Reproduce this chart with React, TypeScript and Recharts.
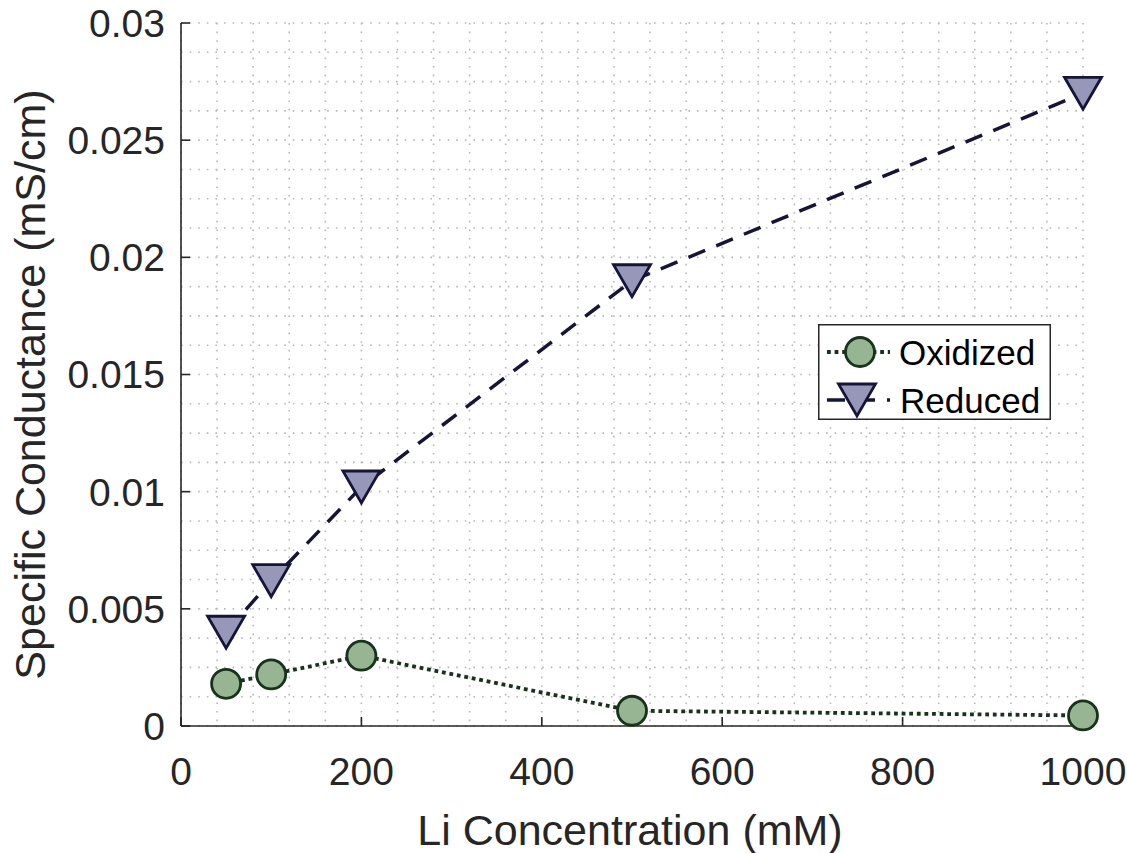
import React from 'react';
import { LineChart, Line, XAxis, YAxis, CartesianGrid, Legend } from 'recharts';

const concentrations = [50, 100, 200, 500, 1000];
const oxidized = [0.0018, 0.0022, 0.003, 0.00065, 0.00045];
const reduced = [0.004, 0.0062, 0.0102, 0.019, 0.027];

const xTicks = [0, 200, 400, 600, 800, 1000];
const yTicks = [0, 0.005, 0.01, 0.015, 0.02, 0.025, 0.03];
const yTickLabels = ['0', '0.005', '0.01', '0.015', '0.02', '0.025', '0.03'];
const xMinorStep = 40;
const yMinorStep = 0.00125;
const xGrid = Array.from({ length: 1000 / xMinorStep + 1 }, (_, i) => i * xMinorStep);
const yGrid = Array.from({ length: 25 }, (_, i) => +(i * yMinorStep).toFixed(5));

const seriesNames = ['Oxidized', 'Reduced'];

const data = concentrations.map((x, i) => ({ x, oxidized: oxidized[i], reduced: reduced[i] }));

const FONT = '"Liberation Sans", Arial, Helvetica, sans-serif';
const AX = '#262626';
const OX_FILL = '#97b593';
const OX_STROKE = '#17331a';
const RED_FILL = '#9797ba';
const RED_STROKE = '#15153a';

const TRI_W = 37;
const TRI_H = 32;

const OX_DASH = '3.8 3.8';
const RED_DASH = '18 12';

function trianglePath(cx: number, cy: number) {
  return `M${cx - TRI_W / 2},${cy - TRI_H / 2} L${cx + TRI_W / 2},${cy - TRI_H / 2} L${cx},${cy + TRI_H / 2} Z`;
}

const OxDot = (p: any) => {
  if (p.cx == null || p.cy == null) return <g key={`ox-${p.index}`} />;
  return <circle key={`ox-${p.index}`} cx={p.cx} cy={p.cy} r={14.5} fill={OX_FILL} stroke={OX_STROKE} strokeWidth={2.8} />;
};

const RedDot = (p: any) => {
  if (p.cx == null || p.cy == null) return <g key={`rd-${p.index}`} />;
  return <path key={`rd-${p.index}`} d={trianglePath(p.cx, p.cy)} fill={RED_FILL} stroke={RED_STROKE} strokeWidth={2.8} strokeLinejoin="miter" />;
};

const EmptyTick = () => <g />;

const LegendBox = () => (
  <svg width={233} height={96} style={{ display: 'block' }}>
    <rect x={0.75} y={0.75} width={231.5} height={94.5} fill="#fff" stroke={AX} strokeWidth={1.5} />
    <line x1={9} y1={28} x2={72} y2={28} stroke={OX_STROKE} strokeWidth={3.8} strokeDasharray={OX_DASH} />
    <circle cx={42} cy={28} r={14.5} fill={OX_FILL} stroke={OX_STROKE} strokeWidth={2.8} />
    <text x={81} y={28} dominantBaseline="central" fontSize={35} fontFamily={FONT} fill="#000">{seriesNames[0]}</text>
    <line x1={9} y1={76} x2={72} y2={76} stroke={RED_STROKE} strokeWidth={3.5} strokeDasharray={RED_DASH} />
    <path d={trianglePath(39, 76)} fill={RED_FILL} stroke={RED_STROKE} strokeWidth={2.8} />
    <text x={82} y={76} dominantBaseline="central" fontSize={35} fontFamily={FONT} fill="#000">{seriesNames[1]}</text>
  </svg>
);

const XLabel = (props: any) => {
  const vb = props.viewBox || {};
  return (
    <text x={vb.x + vb.width / 2 - 2} y={vb.y + 119} textAnchor="middle" fontSize={43} fontFamily={FONT} fill={AX}>
      Li Concentration (mM)
    </text>
  );
};

const YLabel = (props: any) => {
  const vb = props.viewBox || {};
  const x = 45;
  const y = vb.y + vb.height / 2 + 10;
  return (
    <text x={x} y={y} transform={`rotate(-90, ${x}, ${y})`} textAnchor="middle" fontSize={43} fontFamily={FONT} fill={AX}>
      Specific Conductance (mS/cm)
    </text>
  );
};

const tickStyle = { fontSize: 39, fill: AX, fontFamily: FONT };
const lineStyle = { stroke: AX, strokeWidth: 1.6 };

export default function App() {
  return (
    <div style={{ position: 'absolute', left: 0, top: 0, width: 1127, height: 853, background: '#fff' }}>
      <LineChart width={1127} height={853} data={data} margin={{ top: 23, right: 44, bottom: 0, left: 0 }}>
        <CartesianGrid
          stroke="#b8b8b8"
          strokeWidth={1.6}
          strokeDasharray="1.6 7"
          verticalValues={xGrid}
          horizontalValues={yGrid}
        />
        <XAxis
          dataKey="x"
          type="number"
          domain={[0, 1000]}
          ticks={xTicks}
          interval={0}
          height={127}
          tickSize={-9}
          tickMargin={40}
          tick={tickStyle}
          axisLine={lineStyle}
          tickLine={lineStyle}
          label={{ content: XLabel }}
        />
        <XAxis
          xAxisId="top"
          orientation="top"
          type="number"
          domain={[0, 1000]}
          ticks={xTicks}
          interval={0}
          height={0}
          tickSize={-9}
          tickMargin={0}
          tick={EmptyTick}
          axisLine={lineStyle}
          tickLine={lineStyle}
        />
        <YAxis
          type="number"
          domain={[0, 0.03]}
          ticks={yTicks}
          interval={0}
          width={181}
          tickSize={-9}
          tickMargin={25}
          tick={tickStyle}
          tickFormatter={(v: number) => yTickLabels[yTicks.indexOf(v)] ?? String(v)}
          axisLine={lineStyle}
          tickLine={lineStyle}
          label={{ content: YLabel }}
        />
        <YAxis
          yAxisId="right"
          orientation="right"
          type="number"
          domain={[0, 0.03]}
          ticks={yTicks}
          interval={0}
          width={0}
          tickSize={-9}
          tickMargin={0}
          tick={EmptyTick}
          axisLine={lineStyle}
          tickLine={lineStyle}
        />
        <Legend
          verticalAlign="middle"
          align="center"
          layout="horizontal"
          wrapperStyle={{ left: 818, top: 324, width: 233, height: 96 }}
          content={() => <LegendBox />}
        />
        <Line
          dataKey="oxidized"
          name={seriesNames[0]}
          type="linear"
          stroke={OX_STROKE}
          strokeWidth={3.8}
          strokeDasharray={OX_DASH}
          dot={OxDot}
          activeDot={false}
          isAnimationActive={false}
        />
        <Line
          dataKey="reduced"
          name={seriesNames[1]}
          type="linear"
          stroke={RED_STROKE}
          strokeWidth={3.5}
          strokeDasharray={RED_DASH}
          dot={RedDot}
          activeDot={false}
          isAnimationActive={false}
        />
      </LineChart>
    </div>
  );
}
